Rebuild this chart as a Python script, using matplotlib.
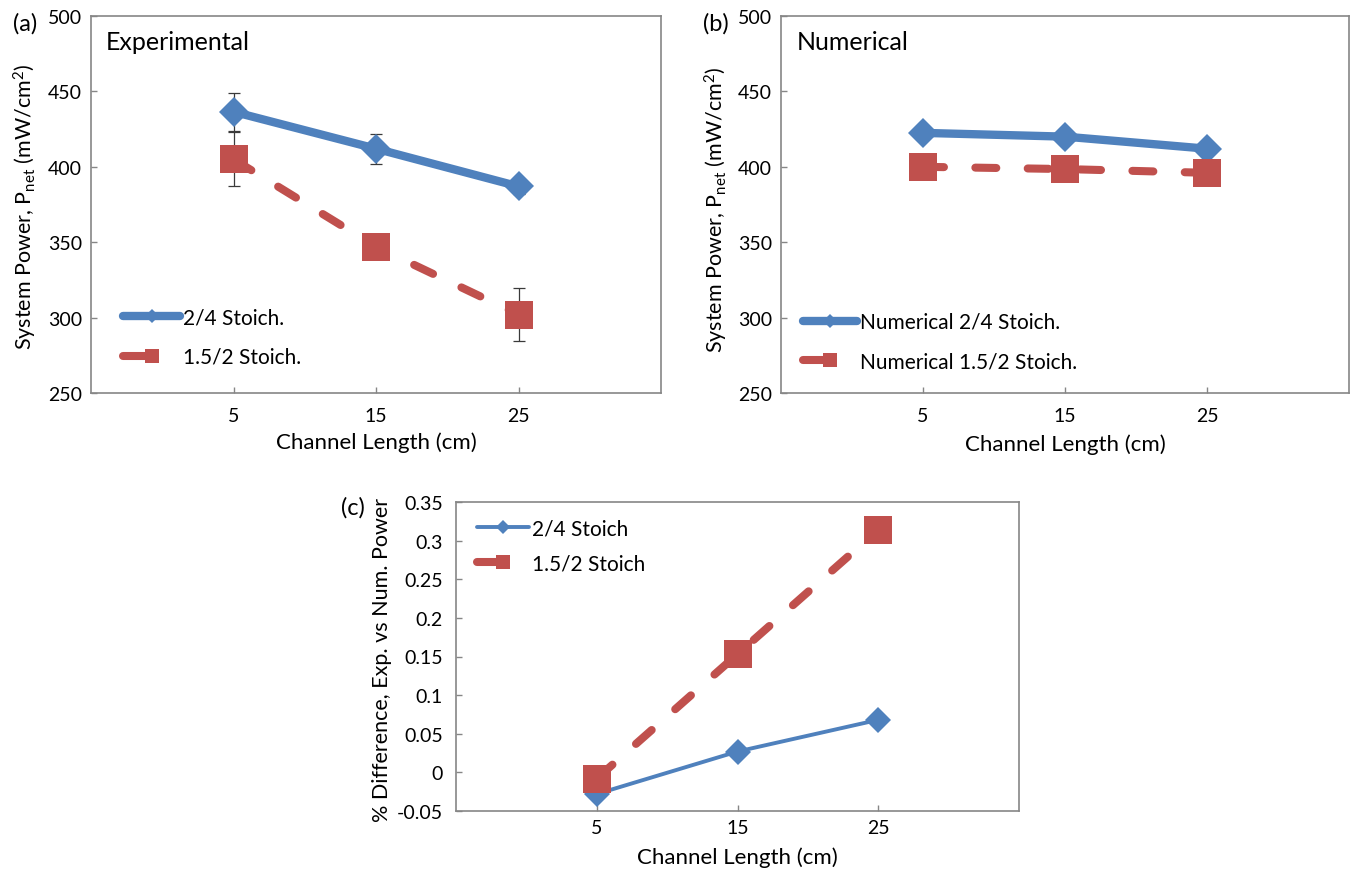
import matplotlib
matplotlib.use("Agg")
import matplotlib.pyplot as plt
from matplotlib.lines import Line2D
from matplotlib.ticker import FuncFormatter

plt.rcParams['font.family'] = ['Lato', 'DejaVu Sans']
plt.rcParams['mathtext.default'] = 'regular'

# channel lengths (cm)
channel_length = [5, 15, 25]

# (a) experimental system power, mW/cm2
exp_24 = [436.5, 412, 387]
exp_24_err = [12.5, 10, 5]
exp_152 = [405, 347, 302]
exp_152_err = [18, 6, 17.5]

# (b) numerical system power, mW/cm2
num_24 = [422.5, 420, 412]
num_152 = [400, 398.5, 396]

# (c) difference between exp. and num. power
diff_24 = [-0.028, 0.027, 0.068]
diff_152 = [-0.008, 0.153, 0.314]

power_ticks = [250, 300, 350, 400, 450, 500]
diff_ticks = [-0.05, 0, 0.05, 0.1, 0.15, 0.2, 0.25, 0.3, 0.35]

BLUE = '#4F81BD'
RED = '#C0504D'
GRAY = '#868686'
DASH = (0, (2.6, 3.9))
LEG_DASH = (0, (3.0, 12))

W, H = 1351, 870
fig = plt.figure(figsize=(W / 100, H / 100), dpi=100)


def box(x0, y0, x1, y1):
    # pixel box -> figure fraction rect
    return [x0 / W, 1 - y1 / H, (x1 - x0) / W, (y1 - y0) / H]


def px(x, y):
    return x / W, 1 - y / H


def style(ax, yticks, xpad, ypad):
    ax.set_xlim(-5, 35)
    ax.set_xticks(channel_length)
    ax.set_ylim(yticks[0], yticks[-1])
    ax.set_yticks(yticks)
    for s in ax.spines.values():
        s.set_color(GRAY)
        s.set_linewidth(1.2)
    ax.tick_params(axis='both', direction='in', length=4.5, width=1, color=GRAY,
                   labelsize=14)
    ax.tick_params(axis='x', pad=xpad)
    ax.tick_params(axis='y', pad=ypad)


def leg_handles(lw_blue, ms_d, ms_s):
    blue = Line2D([], [], color=BLUE, lw=lw_blue, marker='D', ms=ms_d, mew=0,
                  solid_capstyle='round')
    red = Line2D([], [], color=RED, lw=5.8, ls=LEG_DASH, marker='s', ms=ms_s,
                 mew=0, dash_capstyle='round')
    return [blue, red]


ylab_power = 'System Power, P$_{net}$ (mW/cm$^{2}$)'
err_kw = dict(fmt='none', ecolor='#3a3a3a', elinewidth=0.9, capsize=4,
              capthick=0.9, zorder=2)
leg_kw = dict(frameon=False, fontsize=15, handletextpad=0.15, borderpad=0,
              borderaxespad=0, loc='center left')

# ---- (a) experimental
ax1 = fig.add_axes(box(91, 17, 661, 394))
style(ax1, power_ticks, 10, 6.5)
ax1.errorbar(channel_length, exp_24, yerr=exp_24_err, **err_kw)
ax1.errorbar(channel_length, exp_152, yerr=exp_152_err, **err_kw)
ax1.plot(channel_length, exp_24, color=BLUE, lw=6, marker='D', ms=15,
         mew=0, solid_capstyle='round', solid_joinstyle='round', zorder=3)
ax1.plot(channel_length, exp_152, color=RED, lw=5.8, ls=DASH, marker='s',
         ms=20.5, mew=0, dash_capstyle='round', zorder=3)
ax1.text((106 - 91) / 570, (394 - 43) / 377, 'Experimental', transform=ax1.transAxes,
         ha='left', va='center', fontsize=18)
ax1.legend(leg_handles(6, 7.5, 10.5), ['2/4 Stoich.', '1.5/2 Stoich.'],
           bbox_to_anchor=((123 - 91) / 570, (394 - 338) / 377),
           handlelength=2.75, labelspacing=0.95, **leg_kw)

# ---- (b) numerical
ax2 = fig.add_axes(box(781, 17, 1349, 394))
style(ax2, power_ticks, 10, 6.5)
ax2.plot(channel_length, num_24, color=BLUE, lw=6, marker='D', ms=15,
         mew=0, solid_capstyle='round', solid_joinstyle='round', zorder=3)
ax2.plot(channel_length, num_152, color=RED, lw=5.8, ls=DASH, marker='s',
         ms=20.5, mew=0, dash_capstyle='round', zorder=3)
ax2.text((797 - 781) / 569, (394 - 43) / 377, 'Numerical', transform=ax2.transAxes,
         ha='left', va='center', fontsize=18)
ax2.legend(leg_handles(6, 7.5, 10.5), ['Numerical 2/4 Stoich.', 'Numerical 1.5/2 Stoich.'],
           bbox_to_anchor=((803 - 781) / 569, (394 - 342.5) / 377),
           handlelength=2.6, labelspacing=0.92, **leg_kw)

# ---- (c) difference
ax3 = fig.add_axes(box(456, 503, 1019, 812))
style(ax3, diff_ticks, 6, 9.5)
ax3.yaxis.set_major_formatter(FuncFormatter(lambda v, p: f'{v:g}'))
ax3.plot(channel_length, diff_24, color=BLUE, lw=2.8, marker='D', ms=13,
         mew=0, solid_capstyle='round', zorder=3)
ax3.plot(channel_length, diff_152, color=RED, lw=5.8, ls=DASH, marker='s',
         ms=20.5, mew=0, dash_capstyle='round', zorder=3)
ax3.legend(leg_handles(2.8, 7.5, 9.5), ['2/4 Stoich', '1.5/2 Stoich'],
           bbox_to_anchor=((477 - 456) / 563, (812 - 547) / 309),
           handlelength=2.5, labelspacing=0.72, **leg_kw)

# panel letters and axis titles
fig.text(*px(25, 24), '(a)', ha='center', va='center', fontsize=17)
fig.text(*px(716, 24), '(b)', ha='center', va='center', fontsize=17)
fig.text(*px(353, 508), '(c)', ha='center', va='center', fontsize=17)

fig.text(*px(25, 207), ylab_power, rotation=90, ha='center', va='center', fontsize=15.5)
fig.text(*px(716, 210), ylab_power, rotation=90, ha='center', va='center', fontsize=15.5)
fig.text(*px(382, 660), '% Difference, Exp. vs Num. Power', rotation=90,
         ha='center', va='center', fontsize=15.5)

fig.text(*px(376, 443), 'Channel Length (cm)', ha='center', va='center', fontsize=16)
fig.text(*px(1065, 445), 'Channel Length (cm)', ha='center', va='center', fontsize=16)
fig.text(*px(737, 858), 'Channel Length (cm)', ha='center', va='center', fontsize=16)

fig.savefig('out.png', dpi=100)
